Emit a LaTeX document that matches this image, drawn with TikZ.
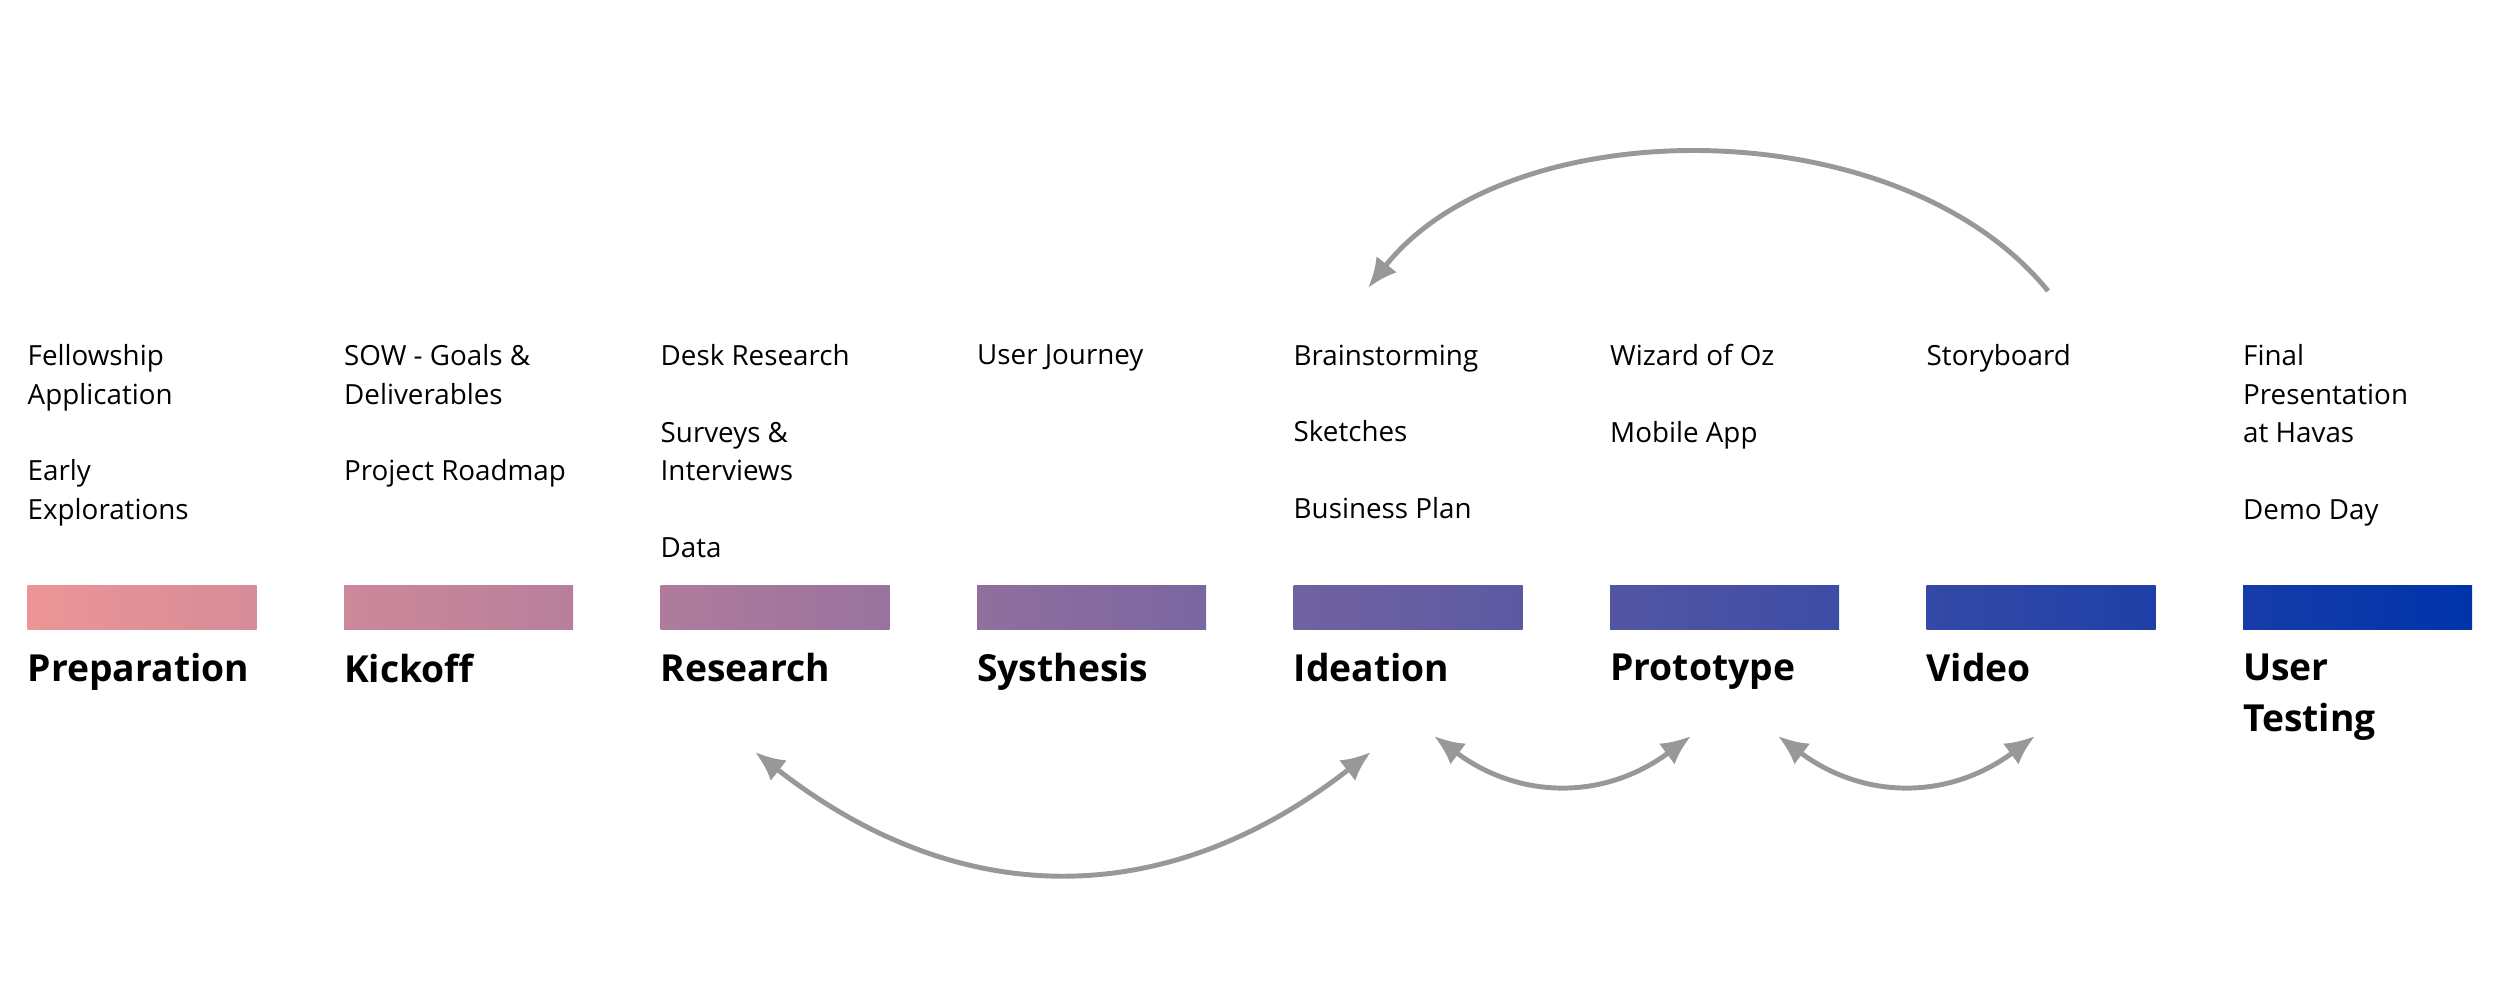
\documentclass[tikz,border=0pt]{standalone}
\usepackage{fontspec}
\setmainfont{Open Sans}
\usetikzlibrary{arrows.meta}
\definecolor{cstart}{RGB}{236,149,151}
\definecolor{cend}{RGB}{0,51,170}
\definecolor{loopgray}{RGB}{152,152,152}
\tikzset{
    phasebar/.style={inner sep=0pt,minimum width=2.29cm,minimum height=0.44cm,anchor=north west},
    phasetitle/.style={inner sep=0pt,anchor=north west,align=left,font=\fontsize{10.6}{14.5}\selectfont\bfseries},
    phaseitems/.style={inner sep=0pt,anchor=north west,align=left,font=\fontsize{7.9}{10.9}\selectfont},
    loop/.style={loopgray,line width=1.4pt},
    looptip/.style={-{Latex[length=0.3cm,width=0.26cm]}},
    twotip/.style={{Latex[length=0.3cm,width=0.26cm]}-{Latex[length=0.3cm,width=0.26cm]}},
}
\begin{document}
\begin{tikzpicture}
    \useasboundingbox(0,0)rectangle(25,10.02);
    % bars with one running gradient
    \foreach \i in {0,...,7}{
        \pgfmathsetmacro{\xl}{0.27+3.165*\i}
        \pgfmathsetmacro{\pl}{100*(3.165*\i)/24.45}
        \pgfmathsetmacro{\pr}{100*(3.165*\i+2.29)/24.45}
        \node[phasebar,left color=cend!\pl!cstart,right color=cend!\pr!cstart](bar\i)at(\xl,4.17){};
    }
    % titles
    \node[phasetitle](t0)at(0.27,3.49){Preparation};
    \node[phasetitle](t1)at(3.435,3.49){Kickoff};
    \node[phasetitle](t2)at(6.60,3.49){Research};
    \node[phasetitle](t3)at(9.765,3.49){Systhesis};
    \node[phasetitle](t4)at(12.93,3.49){Ideation};
    \node[phasetitle](t5)at(16.095,3.49){Prototype};
    \node[phasetitle](t6)at(19.26,3.49){Video};
    \node[phasetitle](t7)at(22.425,3.49){User\\Testing};
    % items
    \node[phaseitems](i0)at(0.27,6.58){Fellowship\\Application\\[10.9pt]Early\\Explorations};
    \node[phaseitems](i1)at(3.435,6.58){SOW - Goals \&\\Deliverables\\[10.9pt]Project Roadmap};
    \node[phaseitems](i2)at(6.60,6.58){Desk Research\\[10.9pt]Surveys \&\\Interviews\\[10.9pt]Data};
    \node[phaseitems](i3)at(9.765,6.58){User Journey};
    \node[phaseitems](i4)at(12.93,6.58){Brainstorming\\[10.9pt]Sketches\\[10.9pt]Business Plan};
    \node[phaseitems](i5)at(16.095,6.58){Wizard of Oz\\[10.9pt]Mobile App};
    \node[phaseitems](i6)at(19.26,6.58){Storyboard};
    \node[phaseitems](i7)at(22.425,6.58){Final\\Presentation\\at Havas\\[10.9pt]Demo Day};
    % loops
    \coordinate(lA)at(20.48,7.11);
    \coordinate(lB)at(13.68,7.14);
    \coordinate(lC)at(7.55,2.50);
    \coordinate(lD)at(13.71,2.50);
    \coordinate(lE)at(14.34,2.66);
    \coordinate(lF)at(16.91,2.66);
    \coordinate(lG)at(17.78,2.66);
    \coordinate(lH)at(20.35,2.66);
    \draw[loop,looptip](lA).. controls (19.0,8.94) and (15.1,8.94) ..(lB);
    \draw[loop,twotip](lC).. controls (9.6,0.9) and (11.66,0.9) ..(lD);
    \draw[loop,twotip](lE).. controls (15.2,2.02) and (16.05,2.02) ..(lF);
    \draw[loop,twotip](lG).. controls (18.64,2.02) and (19.49,2.02) ..(lH);
\end{tikzpicture}
\end{document}
